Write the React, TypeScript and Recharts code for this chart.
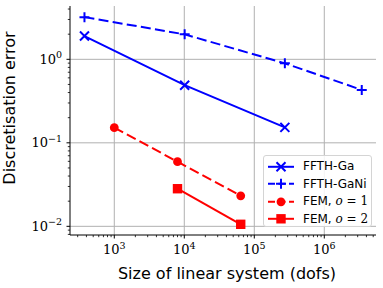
import React from 'react';
import { LineChart, Line, XAxis, YAxis, ReferenceLine, Legend } from 'recharts';

// convergence data (dofs vs error)
const ffthGaDofs = [375, 10125, 273375];
const ffthGaErr = [1.9, 0.49, 0.153];
const ffthGaNiDofs = [375, 10125, 273375, 3430000];
const ffthGaNiErr = [3.2, 1.99, 0.895, 0.43];
const femO1Dofs = [1000, 8000, 64000];
const femO1Err = [0.152, 0.0594, 0.0232];
const femO2Dofs = [8000, 64000];
const femO2Err = [0.0282, 0.01057];

// axis ticks
const xMajor = [1e3, 1e4, 1e5, 1e6];
const xMajorExp = ['3', '4', '5', '6'];
const yMajor = [1e-2, 1e-1, 1];
const yMajorExp = ['\u22122', '\u22121', '0'];
const xDomain = [233, 5.48e6];
const yDomain = [0.00787, 4.35];

const BLUE = '#0000ff';
const RED = '#ff0000';

const minorTicks = (majors: number[], lo: number, hi: number) => {
  const out: number[] = [];
  [majors[0] / 10, ...majors].forEach((m) => {
    for (let k = 2; k <= 9; k++) {
      const v = m * k;
      if (v >= lo && v <= hi) out.push(v);
    }
  });
  return out;
};

const xTicks = [...xMajor, ...minorTicks(xMajor, xDomain[0], xDomain[1])];
const yTicks = [...yMajor, ...minorTicks(yMajor, yDomain[0], yDomain[1])];

const toRows = (xs: number[], ys: number[]) => xs.map((dofs, i) => ({ dofs, err: ys[i] }));

const series = [
  { key: 'ga', name: 'FFTH-Ga', data: toRows(ffthGaDofs, ffthGaErr), color: BLUE, dash: undefined, marker: 'x' },
  { key: 'gani', name: 'FFTH-GaNi', data: toRows(ffthGaNiDofs, ffthGaNiErr), color: BLUE, dash: '10 4.3', marker: '+' },
  { key: 'o1', name: 'FEM, ', order: '1', data: toRows(femO1Dofs, femO1Err), color: RED, dash: '10 4.3', marker: 'o' },
  { key: 'o2', name: 'FEM, ', order: '2', data: toRows(femO2Dofs, femO2Err), color: RED, dash: undefined, marker: 's' },
];

function Marker({ kind, cx, cy, color }: any) {
  if (cx == null || cy == null) return null;
  if (kind === 'x') {
    const h = 4.5;
    return (
      <path
        d={`M${cx - h},${cy - h}L${cx + h},${cy + h}M${cx - h},${cy + h}L${cx + h},${cy - h}`}
        stroke={color}
        strokeWidth={2}
        strokeDasharray="none"
        fill="none"
      />
    );
  }
  if (kind === '+') {
    const h = 5;
    return (
      <path
        d={`M${cx - h},${cy}L${cx + h},${cy}M${cx},${cy - h}L${cx},${cy + h}`}
        stroke={color}
        strokeWidth={2}
        strokeDasharray="none"
        fill="none"
      />
    );
  }
  if (kind === 'o') return <circle cx={cx} cy={cy} r={4.4} fill={color} stroke="none" />;
  return <rect x={cx - 4.7} y={cy - 4.7} width={9.4} height={9.4} fill={color} stroke="none" />;
}

const XTick = (props: any) => {
  const { x, y, payload } = props;
  const idx = xMajor.indexOf(payload.value);
  const major = idx >= 0;
  return (
    <g>
      <line x1={x} x2={x} y1={y} y2={y + (major ? 3.5 : 2.2)} stroke="#000" strokeWidth={major ? 1 : 0.8} />
      {major && (
        <text x={x} y={y + 19} textAnchor="middle" fontFamily="DejaVu Serif" fontSize={13} fill="#000">
          10
          <tspan dy={-5.5} fontSize={9.5}>
            {xMajorExp[idx]}
          </tspan>
        </text>
      )}
    </g>
  );
};

const YTick = (props: any) => {
  const { x, y, payload } = props;
  const idx = yMajor.indexOf(payload.value);
  const major = idx >= 0;
  return (
    <g>
      <line x1={x} x2={x - (major ? 3.5 : 2.2)} y1={y} y2={y} stroke="#000" strokeWidth={major ? 1 : 0.8} />
      {major && (
        <text x={x - 8} y={y + 4.5} textAnchor="end" fontFamily="DejaVu Serif" fontSize={13} fill="#000">
          10
          <tspan dy={-5.5} fontSize={9.5}>
            {yMajorExp[idx]}
          </tspan>
        </text>
      )}
    </g>
  );
};

const renderLegend = () => (
  <div
    style={{
      width: 109,
      height: 72,
      boxSizing: 'border-box',
      border: '1px solid #d4d4d4',
      borderRadius: 3,
      background: 'rgba(255,255,255,0.85)',
      paddingTop: 1.5,
      fontFamily: 'DejaVu Sans',
      fontSize: 12,
      color: '#000',
    }}
  >
    {series.map((s) => (
      <div key={s.key} style={{ display: 'flex', alignItems: 'center', height: 17.6 }}>
        <svg width={39} height={17.6} style={{ flex: 'none' }}>
          <line x1={4} x2={30} y1={8.8} y2={8.8} stroke={s.color} strokeWidth={2} strokeDasharray={s.dash ? '7 3.5' : undefined} />
          <Marker kind={s.marker} cx={17} cy={8.8} color={s.color} />
        </svg>
        <span style={{ whiteSpace: 'nowrap' }}>
          {s.name}
          {s.order && (
            <span style={{ fontFamily: 'DejaVu Serif' }}>
              <i>o</i> = {s.order}
            </span>
          )}
        </span>
      </div>
    ))}
  </div>
);

export default function App() {
  return (
    <div style={{ position: 'absolute', left: 0, top: 0, background: '#fff' }}>
      <LineChart width={383} height={288} margin={{ top: 6, right: 7, bottom: 0, left: 0 }}>
        <XAxis
          dataKey="dofs"
          type="number"
          scale="log"
          domain={xDomain}
          allowDataOverflow
          ticks={xTicks}
          interval={0}
          tick={<XTick />}
          tickLine={false}
          tickSize={0}
          tickMargin={0}
          axisLine={{ stroke: '#000', strokeWidth: 1 }}
          height={53}
          label={{
            content: () => (
              <text x={227} y={279} textAnchor="middle" fontFamily="DejaVu Sans" fontSize={16} fill="#000">
                Size of linear system (dofs)
              </text>
            ),
          }}
        />
        <XAxis
          xAxisId="top"
          orientation="top"
          dataKey="dofs"
          type="number"
          scale="log"
          domain={xDomain}
          allowDataOverflow
          tick={false}
          tickLine={false}
          axisLine={{ stroke: '#000', strokeWidth: 1 }}
          height={0}
        />
        <YAxis
          dataKey="err"
          type="number"
          scale="log"
          domain={yDomain}
          allowDataOverflow
          ticks={yTicks}
          interval={0}
          tick={<YTick />}
          tickLine={false}
          tickSize={0}
          tickMargin={0}
          axisLine={{ stroke: '#000', strokeWidth: 1 }}
          width={70}
          label={{
            content: () => (
              <text
                x={15}
                y={108}
                transform="rotate(-90 15 108)"
                textAnchor="middle"
                fontFamily="DejaVu Sans"
                fontSize={16}
                fill="#000"
              >
                Discretisation error
              </text>
            ),
          }}
        />
        <YAxis
          yAxisId="right"
          orientation="right"
          dataKey="err"
          type="number"
          scale="log"
          domain={yDomain}
          allowDataOverflow
          tick={false}
          tickLine={false}
          axisLine={{ stroke: '#000', strokeWidth: 1 }}
          width={0}
        />
        {xMajor.map((v) => (
          <ReferenceLine key={`gx-${v}`} x={v} stroke="#b0b0b0" strokeWidth={1} />
        ))}
        {yMajor.map((v) => (
          <ReferenceLine key={`gy-${v}`} y={v} stroke="#b0b0b0" strokeWidth={1} />
        ))}
        {series.map((s) => (
          <Line
            key={s.key}
            data={s.data}
            dataKey="err"
            name={s.name}
            type="linear"
            stroke={s.color}
            strokeWidth={2}
            strokeDasharray={s.dash}
            dot={(p: any) => <Marker key={`${s.key}-${p.index}`} kind={s.marker} cx={p.cx} cy={p.cy} color={s.color} />}
            activeDot={false}
            isAnimationActive={false}
          />
        ))}
        <Legend
          layout="horizontal"
          verticalAlign="middle"
          align="center"
          content={renderLegend}
          wrapperStyle={{ position: 'absolute', left: 263, top: 155, width: 109, height: 72 }}
        />
      </LineChart>
    </div>
  );
}
